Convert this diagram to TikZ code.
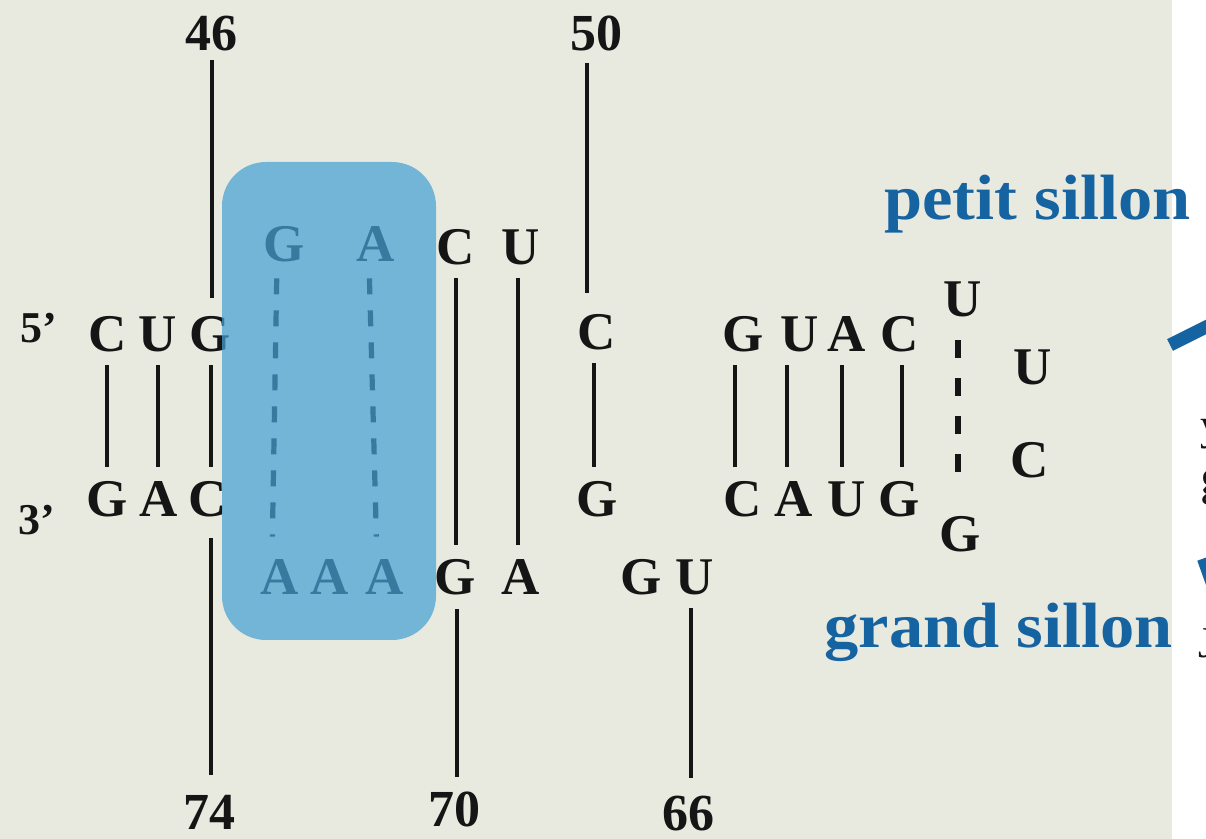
\documentclass[tikz,border=0pt]{standalone}
\usepackage{fontspec}
\setmainfont{Liberation Serif}
\newfontfamily\labfont[FakeStretch=1.07]{Liberation Serif}
\definecolor{paper}{HTML}{E9EADF}
\definecolor{boxblue}{RGB}{70,161,213}
\definecolor{labblue}{HTML}{1663A2}
\definecolor{ink}{HTML}{151515}
\begin{document}
\begin{tikzpicture}[x=0.5pt,y=-0.5pt,
  nt/.style={font=\bfseries\fontsize{26.5}{30}\selectfont, text=ink, inner sep=0pt, anchor=base, text height=17.5pt, text depth=0pt},
  num/.style={font=\bfseries\fontsize{26}{30}\selectfont, text=ink, inner sep=0pt, anchor=base, text height=18pt, text depth=0pt},
  primelab/.style={font=\bfseries\fontsize{22}{26}\selectfont, text=ink, inner sep=0pt, anchor=base},
  bline/.style={line width=2.2pt, draw=ink},
  pairline/.style={bline, shorten <=6.5pt, shorten >=7.5pt},
  dline/.style={line width=2.6pt, draw=ink, dash pattern=on 8pt off 8pt},
  lab/.style={font=\labfont\bfseries\fontsize{32}{36}\selectfont, text=labblue, inner sep=0pt, anchor=base west},
  frag/.style={font=\fontsize{22}{26}\selectfont, text=ink, inner sep=0pt, anchor=base west}]
\useasboundingbox (0,0) rectangle (1206,839);
\clip (0,0) rectangle (1206,839);
\fill[white] (0,0) rectangle (1206,839);
\fill[paper] (0,0) rectangle (1172,839);

% position numbers
\node[num] (n46) at (211,51) {46};
\node[num] (n50) at (596,51) {50};
\node[num] (n74) at (209,829) {74};
\node[num] (n70) at (454,827) {70};
\node[num] (n66) at (688,830) {66};

% ends
\node[primelab] (p5) at (39,343) {5’};
\node[primelab] (p3) at (37,535) {3’};

% left stem
\node[nt] (c1) at (108,352) {C};
\node[nt] (u1) at (158,352) {U};
\node[nt] (g1) at (210,352) {G};
\node[nt] (g2) at (107,517) {G};
\node[nt] (a2) at (159,517) {A};
\node[nt] (c2) at (208,517) {C};

% highlighted bases
\node[nt] (gB) at (284,262) {G};
\node[nt] (aB) at (376,262) {A};
\node[nt] (aa1) at (280,595) {A};
\node[nt] (aa2) at (330,595) {A};
\node[nt] (aa3) at (385,595) {A};

% middle
\node[nt] (cT) at (456,265) {C};
\node[nt] (uT) at (521,265) {U};
\node[nt] (gBot) at (455,595) {G};
\node[nt] (aBot) at (521,595) {A};
\node[nt] (cM) at (597,350) {C};
\node[nt] (gM) at (597,517) {G};
\node[nt] (gU) at (641,595) {G};
\node[nt] (uU) at (695,595) {U};

% right stem
\node[nt] (r1) at (743,352) {G};
\node[nt] (r2) at (800,352) {U};
\node[nt] (r3) at (847,352) {A};
\node[nt] (r4) at (900,352) {C};
\node[nt] (s1) at (743,517) {C};
\node[nt] (s2) at (794,517) {A};
\node[nt] (s3) at (847,517) {U};
\node[nt] (s4) at (899,517) {G};

% loop
\node[nt] (lu1) at (963,317) {U};
\node[nt] (lu2) at (1033,385) {U};
\node[nt] (lc) at (1030,478) {C};
\node[nt] (lg) at (960,552) {G};

% long backbone lines
\draw[bline, shorten <=4.5pt, shorten >=9.5pt] (n46.south -| 212,0) -- (g1.north -| 212,0);
\draw[pairline] (g1.south -| 211,0) -- (c2.north -| 211,0);
\draw[bline, shorten <=10.5pt, shorten >=9pt] (c2.south -| 211,0) -- (n74.north -| 211,0);
\draw[bline, shorten <=6pt, shorten >=11pt] (n50.south -| 587,0) -- (cM.north -| 587,0);
\draw[pairline] (cM.south -| 594,0) -- (gM.north -| 594,0);
\draw[pairline] (cT.south -| 456,0) -- (gBot.north -| 456,0);
\draw[pairline] (uT.south -| 518,0) -- (aBot.north -| 518,0);
\draw[bline, shorten <=7pt, shorten >=7pt] (gBot.south -| 457,0) -- (n70.north -| 457,0);
\draw[bline, shorten <=6.5pt, shorten >=8pt] (uU.south -| 691,0) -- (n66.north -| 691,0);

% base pairs
\draw[pairline] (c1.south -| 107,0) -- (g2.north -| 107,0);
\draw[pairline] (u1.south -| 158,0) -- (a2.north -| 158,0);
\draw[pairline] (r1.south -| 735,0) -- (s1.north -| 735,0);
\draw[pairline] (r2.south -| 787,0) -- (s2.north -| 787,0);
\draw[pairline] (r3.south -| 842,0) -- (s3.north -| 842,0);
\draw[pairline] (r4.south -| 902,0) -- (s4.north -| 902,0);

% non-canonical pairs (dashed)
\draw[dline, shorten <=8pt, shorten >=11.5pt] (gB.south -| 277,0) -- (aa1.north -| 272,0);
\draw[dline, shorten <=8pt, shorten >=11.5pt] (aB.south -| 369,0) -- (aa3.north -| 377,0);
\draw[dline, dash pattern=on 9pt off 10pt, shorten <=11.5pt, shorten >=12.5pt] (lu1.south -| 958,0) -- (lg.north -| 958,0);

% highlight box
\fill[boxblue, opacity=0.72, rounded corners=22pt] (222,162) rectangle (436,640);

% labels
\node[lab] (petit) at (884,220) {petit sillon};
\node[lab] (grand) at (824,648) {grand sillon};

% cut-off elements at right edge
\draw[labblue, line width=6.5pt] (1170,345) -- (1250,305);
\draw[labblue, line width=5pt] (1202,559) -- (1222,615);
\node[frag] (f1) at (1200,440) {y};
\node[frag, font=\fontsize{26}{30}\selectfont] (f2) at (1200,495) {g};
\node[frag] (f3) at (1198,658) {J};
\end{tikzpicture}
\end{document}
